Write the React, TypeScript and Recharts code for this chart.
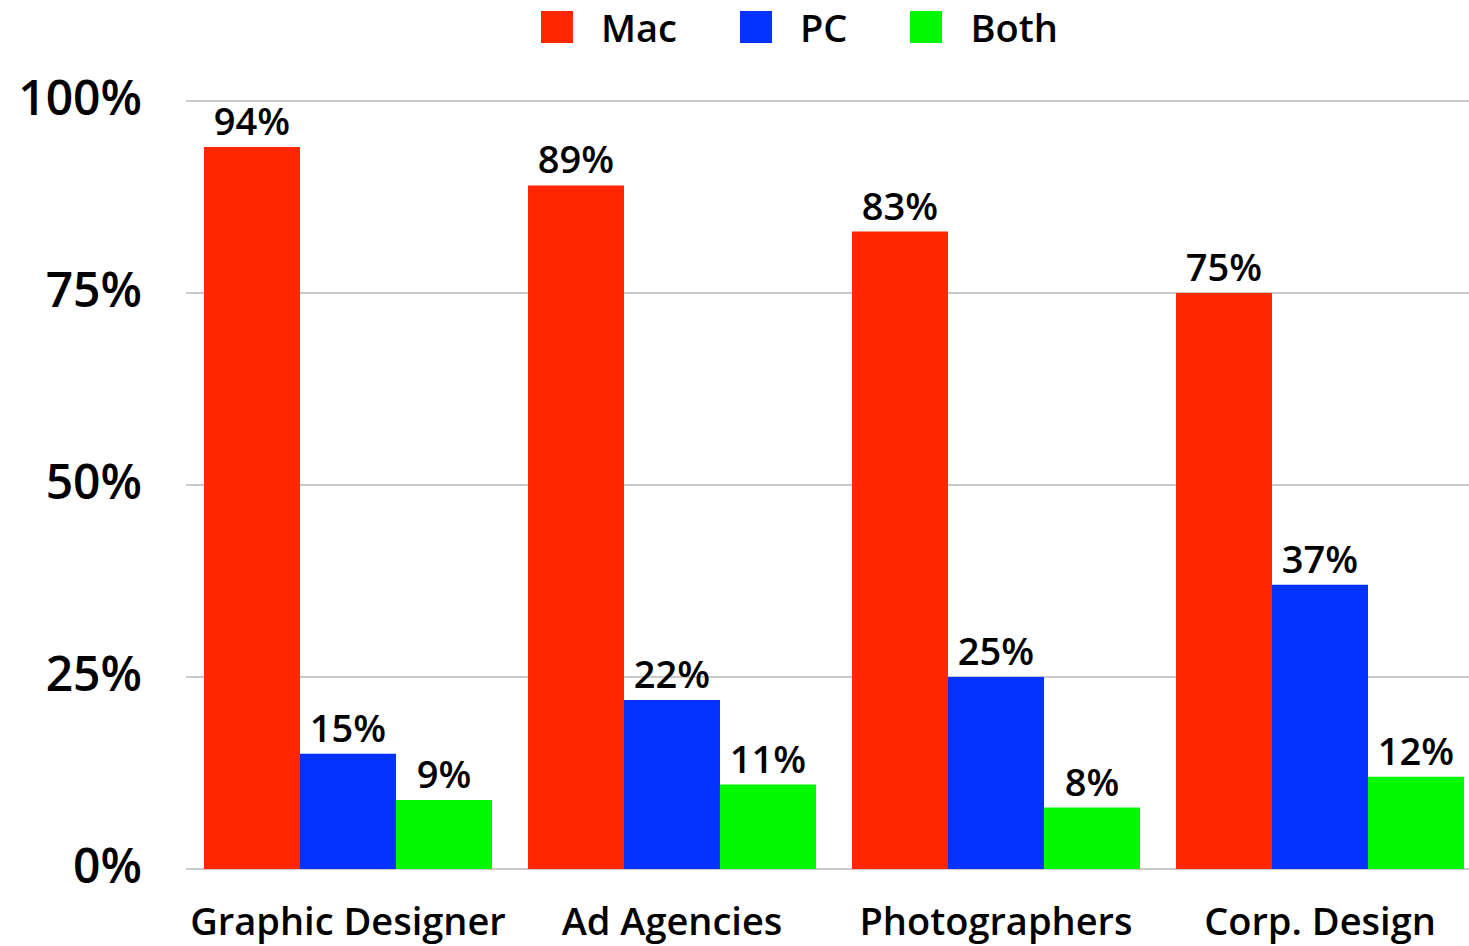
import React from 'react';
import { BarChart, Bar, XAxis, YAxis, CartesianGrid, Legend, LabelList } from 'recharts';

const categories = ['Graphic Designer', 'Ad Agencies', 'Photographers', 'Corp. Design'];
const macValues = [94, 89, 83, 75];
const pcValues = [15, 22, 25, 37];
const bothValues = [9, 11, 8, 12];
const yTicks = [0, 25, 50, 75, 100];

const seriesNames = ['Mac', 'PC', 'Both'];
const seriesColors = ['#FF2600', '#0433FF', '#00F900'];

const data = categories.map((c, i) => ({
  name: c,
  Mac: macValues[i],
  PC: pcValues[i],
  Both: bothValues[i],
}));

const FONT = '"Open Sans", "Noto Sans", sans-serif';
const WEIGHT = 600;

const LegendContent = (props: any) => {
  const payload = [...(props.payload || [])].sort(
    (a: any, b: any) => seriesNames.indexOf(a.value) - seriesNames.indexOf(b.value)
  );
  return (
    <div style={{ height: 60, position: 'relative', width: 1469, fontFamily: FONT }}>
      <div style={{ position: 'absolute', left: 541, top: 11, display: 'flex', alignItems: 'center' }}>
        {payload.map((p: any, i: number) => (
          <div key={i} style={{ display: 'flex', alignItems: 'center', marginRight: i < payload.length - 1 ? 63 : 0 }}>
            <div style={{ width: 32, height: 32, background: p.color, marginRight: 28 }} />
            <span style={{ fontSize: 38, fontWeight: WEIGHT, color: '#000', lineHeight: '32px' }}>{p.value}</span>
          </div>
        ))}
      </div>
    </div>
  );
};

export default function App() {
  return (
    <div style={{ position: 'absolute', left: 0, top: 0, width: 1469, height: 946, overflow: 'hidden', background: '#fff', fontFamily: FONT }}>
      <BarChart
        width={1482}
        height={946}
        data={data}
        margin={{ top: 41, right: 0, bottom: 0, left: 0 }}
        barCategoryGap={18}
        barGap={0}
      >
        <CartesianGrid vertical={false} stroke="#b8b8b8" strokeWidth={1.5} />
        <XAxis
          dataKey="name"
          axisLine={false}
          tickLine={false}
          tickSize={0}
          tickMargin={39}
          interval={0}
          height={77}
          tick={{ fontSize: 38, fontWeight: WEIGHT, fill: '#000', fontFamily: FONT }}
        />
        <YAxis
          domain={[0, 100]}
          ticks={yTicks}
          axisLine={false}
          tickLine={false}
          tickSize={0}
          tickMargin={44}
          width={186}
          tickFormatter={(v: number) => `${v}%`}
          tick={{ fontSize: 48, fontWeight: WEIGHT, fill: '#000', fontFamily: FONT, dy: -3 }}
        />
        <Legend
          verticalAlign="top"
          align="left"
          wrapperStyle={{ top: 0, left: 0, width: 1469 }}
          content={<LegendContent />}
        />
        {seriesNames.map((s, i) => (
          <Bar key={s} dataKey={s} name={s} fill={seriesColors[i]} isAnimationActive={false}>
            <LabelList
              dataKey={s}
              position="top"
              offset={12}
              formatter={(v: number) => `${v}%`}
              style={{ fontSize: 38, fontWeight: WEIGHT, fill: '#000', fontFamily: FONT }}
            />
          </Bar>
        ))}
      </BarChart>
    </div>
  );
}
